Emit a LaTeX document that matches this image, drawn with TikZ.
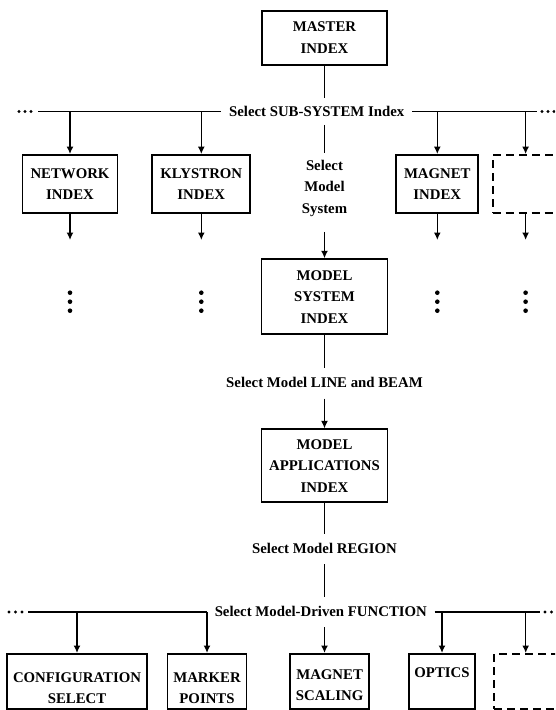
\documentclass[tikz,border=0pt]{standalone}
\usepackage{fontspec}
\setmainfont{Liberation Serif}
\usetikzlibrary{arrows.meta}

\begin{document}
\begin{tikzpicture}[x=1pt, y=-1pt, line width=1.5pt,
  every node/.style={font=\fontsize{14.8}{21.5}\selectfont\bfseries},
  idxbox/.style={draw, line width=1.8pt, align=center, inner xsep=0pt, inner ysep=0pt},
  blankbox/.style={idxbox, dash pattern=on 8pt off 5pt},
  fnbox/.style={idxbox, anchor=north, text height=50pt, text depth=5pt},
  sel/.style={inner xsep=7pt, inner ysep=9pt, text height=10pt, text depth=1pt},
  arr/.style={-{Latex[length=7.5pt,width=7pt]}}]
  \clip (0,0) rectangle (555,710);

  % sub-system level
  \node[idxbox, minimum width=125pt, minimum height=54pt] (master) at (324.5,37.8) {MASTER\\INDEX};
  \node[sel, inner ysep=7pt] (subsel) at (316.7,111.5) {Select SUB-SYSTEM Index};
  \node[idxbox, minimum width=95pt, minimum height=58pt] (network) at (70,184) {NETWORK\\INDEX};
  \node[idxbox, minimum width=98pt, minimum height=58pt] (klystron) at (201.3,184) {KLYSTRON\\INDEX};
  \node[idxbox, minimum width=82pt, minimum height=58pt] (magnet) at (437.3,184) {MAGNET\\INDEX};
  \node[blankbox, minimum width=66pt, minimum height=58pt] (blankA) at (525.6,184) {};
  \node[align=center, inner ysep=6pt] (selsys) at (324.5,188) {Select\\Model\\System};

  % model levels
  \node[idxbox, minimum width=126pt, minimum height=75pt] (modsys) at (324.5,296.7) {MODEL\\SYSTEM\\INDEX};
  \node[sel] (linesel) at (324.5,383.3) {Select Model LINE and BEAM};
  \node[idxbox, minimum width=126pt, minimum height=73pt] (modapp) at (324.5,465.8) {MODEL\\APPLICATIONS\\INDEX};
  \node[sel] (regsel) at (324.5,549) {Select Model REGION};
  \node[sel] (funsel) at (320.8,612) {Select Model-Driven FUNCTION};

  % functions
  \node[fnbox, minimum width=139.4pt] (config) at (77,653) {CONFIGURATION\\SELECT};
  \node[fnbox, minimum width=79pt] (marker) at (207,653) {MARKER\\POINTS};
  \node[fnbox, minimum width=79.3pt, text height=47pt, text depth=8pt] (magscale) at (329.6,653) {MAGNET\\SCALING};
  \node[fnbox, minimum width=65.7pt, text height=23.5pt, text depth=31.5pt] (optics) at (442,653) {OPTICS};
  \node[blankbox, anchor=north, minimum width=63.4pt, minimum height=55pt] (blankB) at (525.7,653) {};

  % buses
  \coordinate (subL) at (38,111.5);
  \coordinate (subR) at (537,111.5);
  \coordinate (funL) at (28,612);
  \coordinate (funR) at (540,612);
  \coordinate (tails) at (0,240);
  \draw (subL) -- (subsel.west) (subsel.east) -- (subR);
  \draw (funL) -- (funsel.west) (funsel.east) -- (funR);
  \foreach \x in {19,25,31,542,548,554} \fill (\x,111.5) circle (1.6pt);
  \foreach \x in {9,15.5,22,545,551.5,558} \fill (\x,612) circle (1.6pt);

  \foreach \n in {network,klystron,magnet,blankA} {
    \draw[arr] (\n.north |- subsel) -- (\n.north);
    \draw[arr] (\n.south) -- (\n.south |- tails);
    \foreach \y in {292.7,301.7,310.7} \fill (\n.south |- 0,\y) circle (2.3pt);
  }
  \foreach \n in {config,marker,optics,blankB}
    \draw[arr] (\n.north |- funsel) -- (\n.north);

  % main column
  \draw (master) -- (master |- subsel.north);
  \draw (master |- subsel.south) -- (selsys);
  \draw[arr, shorten <=9pt] (selsys) -- (modsys);
  \draw (modsys) -- (linesel);
  \draw[arr] (linesel) -- (modapp);
  \draw (modapp) -- (regsel);
  \draw (regsel) -- (regsel |- funsel.north);
  \draw[arr] (regsel |- funsel.south) -- (regsel |- magscale.north);
\end{tikzpicture}
\end{document}
